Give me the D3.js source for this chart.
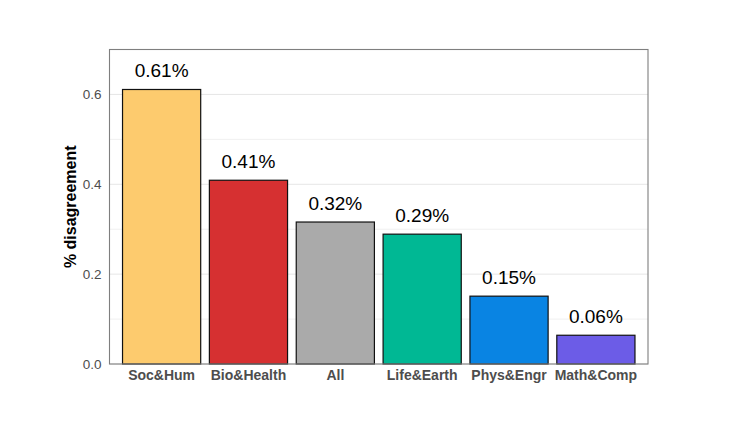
<!DOCTYPE html>
<html><head><meta charset="utf-8">
<script src="https://cdn.jsdelivr.net/npm/d3@7"></script>
<style>body{margin:0;background:#fff}</style>
</head><body>
<svg id="c" width="736" height="441"></svg>
<script>
const categories = ["Soc&Hum","Bio&Health","All","Life&Earth","Phys&Engr","Math&Comp"];
const values = [0.611, 0.409, 0.316, 0.289, 0.151, 0.064];
const labels = ["0.61%","0.41%","0.32%","0.29%","0.15%","0.06%"];
const colors = ["#fdcb6e","#d63031","#aaaaaa","#00b894","#0984e3","#6c5ce7"];
const yTicks = [0, 0.2, 0.4, 0.6];
const yMinor = [0.1, 0.3, 0.5];

const svg = d3.select("#c");
const L = 109.5, R = 648, T = 49.5, B = 364;
const font = "'Liberation Sans', Arial, Helvetica, sans-serif";

const y = d3.scaleLinear().domain([0, 0.7]).range([B, T]);
const n = categories.length;
const step = (R - L) / (n + 0.2);
const x = d3.scaleBand().domain(categories)
  .range([L + 0.6*step - 0.5*step, R - 0.6*step + 0.5*step])
  .paddingInner(0.1).paddingOuter(0.05);

svg.append("g").selectAll("line").data(yMinor).join("line")
  .attr("x1", L).attr("x2", R).attr("y1", d => y(d)).attr("y2", d => y(d))
  .attr("stroke", "#f0f0f0").attr("stroke-width", 1);
svg.append("g").selectAll("line").data(yTicks).join("line")
  .attr("x1", L).attr("x2", R).attr("y1", d => y(d)).attr("y2", d => y(d))
  .attr("stroke", "#e6e6e6").attr("stroke-width", 1);

svg.append("g").selectAll("rect").data(categories).join("rect")
  .attr("x", d => x(d)).attr("width", x.bandwidth())
  .attr("y", (d,i) => y(values[i])).attr("height", (d,i) => y(0) - y(values[i]))
  .attr("fill", (d,i) => colors[i]).attr("stroke", "#111").attr("stroke-width", 1.2);

svg.append("g").selectAll("text").data(categories).join("text")
  .attr("x", d => x(d) + x.bandwidth()/2)
  .attr("y", (d,i) => y(values[i]) - 12.5)
  .attr("text-anchor", "middle").attr("font-family", font).attr("font-size", 19)
  .attr("fill", "#000").text((d,i) => labels[i]);

svg.append("rect").attr("x", L).attr("y", T).attr("width", R - L).attr("height", B - T)
  .attr("fill", "none").attr("stroke", "#7f7f7f").attr("stroke-width", 1.1);

const ya = svg.append("g").attr("transform", `translate(${L},0)`)
  .call(d3.axisLeft(y).tickValues(yTicks).tickFormat(d3.format(".1f")).tickSize(0).tickPadding(8));
ya.select(".domain").remove();
ya.selectAll("text").attr("font-family", font).attr("font-size", 13.5).attr("fill", "#4d4d4d");

const xa = svg.append("g").attr("transform", `translate(0,${B})`)
  .call(d3.axisBottom(x).tickSize(0).tickPadding(6));
xa.select(".domain").remove();
xa.selectAll("text").attr("font-family", font).attr("font-size", 14)
  .attr("font-weight", "bold").attr("fill", "#4d4d4d");

svg.append("text").attr("transform", `translate(76,${(T+B)/2}) rotate(-90)`)
  .attr("text-anchor", "middle").attr("font-family", font).attr("font-size", 16)
  .attr("font-weight", "bold").attr("fill", "#000").text("% disagreement");
</script>
</body></html>
